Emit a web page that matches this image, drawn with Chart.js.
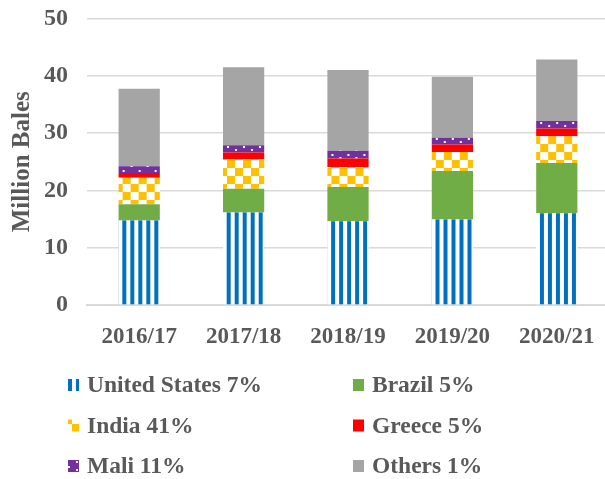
<!DOCTYPE html>
<html>
<head>
<meta charset="utf-8">
<script src="https://cdn.jsdelivr.net/npm/chart.js@4"></script>
<style>
body{margin:0;overflow:hidden;background:#fff}
canvas{display:block}
</style>
</head>
<body>
<canvas id="cottonChart" width="612" height="479"></canvas>
<script>
const years=["2016/17","2017/18","2018/19","2019/20","2020/21"]

// million bales, one segment per country
const unitedStates=[14.75,16.15,14.6,14.9,16.0]
const brazil=[2.85,4.15,6.0,8.5,8.8]
const india=[4.6,5.1,3.5,3.3,4.65]
const greece=[0.85,1.2,1.45,1.3,1.35]
const mali=[1.15,1.3,1.35,1.2,1.3]
const others=[13.55,13.6,14.1,10.65,10.75]

const legendLabels=["United States 7%","Brazil 5%","India 41%","Greece 5%","Mali 11%","Others 1%"]

const yTicks=[0,10,20,30,40,50]

const textColor="#595959"
const gridColor="#d9d9d9"
const BAR_PCT=0.395

// small pattern tiles
function makeTile(w,h,draw){
let c=document.createElement("canvas")
c.width=w
c.height=h
let g=c.getContext("2d")
draw(g)
return g.createPattern(c,"repeat")
}

function stripeTile(){
return makeTile(8,8,g=>{
g.fillStyle="#fff"
g.fillRect(0,0,8,8)
g.fillStyle="#0070c0"
g.fillRect(4,0,4,8)
})
}

function checkTile(){
return makeTile(16,16,g=>{
g.fillStyle="#fff"
g.fillRect(0,0,16,16)
g.fillStyle="#ffc000"
g.fillRect(0,0,8,8)
g.fillRect(8,8,8,8)
})
}

function dotTile(){
return makeTile(16,8,g=>{
g.fillStyle="#7030a0"
g.fillRect(0,0,16,8)
g.fillStyle="#fff"
g.fillRect(4,2,2,2)
g.fillRect(12,5,2,2)
})
}

// line the pattern up with the left edge of each bar
function alignedFill(tileFn,dx){
return c=>{
let p=tileFn()
let xs=c.chart.scales.x
if(!xs || c.dataIndex===undefined) return p
let w=xs.width/years.length*BAR_PCT
let left=xs.getPixelForValue(c.dataIndex)-w/2
p.setTransform(new DOMMatrix().translate(left+dx,0))
return p
}
}

const legendFills=[stripeTile(),"#70ad47",checkTile(),"#ff0000",dotTile(),"#a5a5a5"]
const fills=[alignedFill(stripeTile,-0.3),"#70ad47",alignedFill(checkTile,4),"#ff0000",alignedFill(dotTile,0),"#a5a5a5"]
const series=[unitedStates,brazil,india,greece,mali,others]

const legendPlugin={
id:"gridLegend",
afterDraw(chart){
let ctx=chart.ctx
ctx.save()
ctx.font="bold 23.5px 'Liberation Serif'"
ctx.textBaseline="middle"
chart.data.datasets.forEach((ds,i)=>{
let col=i%2
let row=Math.floor(i/2)
let x=col===0?68:353
let y=385+row*40.5
ctx.fillStyle=legendFills[i]
ctx.fillRect(x,y-6,11,12)
ctx.fillStyle=textColor
ctx.fillText(ds.label,x+19,y+1)
})
ctx.restore()
}
}

const ctx=document.getElementById("cottonChart").getContext("2d")

new Chart(ctx,{
type:"bar",
data:{
labels:years,
datasets:series.map((vals,i)=>({
label:legendLabels[i],
data:vals,
backgroundColor:fills[i],
borderWidth:0,
barPercentage:BAR_PCT,
categoryPercentage:1
}))
},
options:{
responsive:false,
animation:false,
devicePixelRatio:1,
layout:{padding:{left:4,right:3,top:18.5,bottom:129}},
plugins:{legend:{display:false},tooltip:{enabled:false}},
scales:{
x:{
stacked:true,
grid:{display:false},
border:{color:gridColor,width:2},
ticks:{color:textColor,font:{family:"Liberation Serif",size:23,weight:"bold"},padding:10},
afterFit(scale){scale.height=45}
},
y:{
stacked:true,
min:0,
max:50,
afterBuildTicks(scale){scale.ticks=yTicks.map(v=>({value:v}))},
grid:{color:gridColor,lineWidth:1.5,drawTicks:false},
border:{display:false},
ticks:{color:textColor,font:{family:"Liberation Serif",size:24,weight:"bold"},padding:19},
title:{display:true,text:"Million Bales",color:textColor,font:{family:"Liberation Serif",size:25,weight:"bold"},padding:{top:4,bottom:0}},
afterFit(scale){
scale.width=83
// keep the plot top fixed, tick labels may hang over it
scale.paddingTop=0
scale.paddingBottom=0
}
}
}
},
plugins:[legendPlugin]
})
</script>
</body>
</html>
